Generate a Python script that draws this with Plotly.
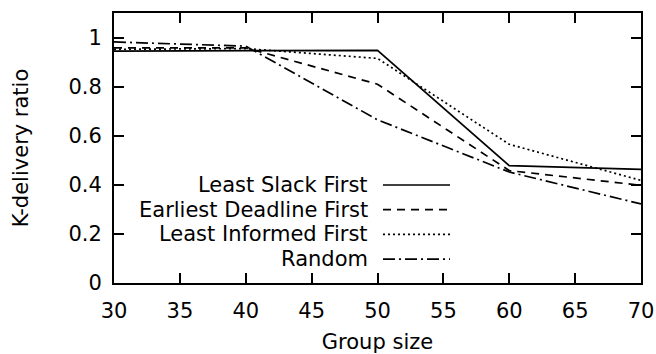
import plotly.graph_objects as go

group_size = [30, 40, 50, 60, 70]
least_slack = [0.945, 0.945, 0.948, 0.478, 0.463]
earliest_deadline = [0.958, 0.958, 0.81, 0.458, 0.398]
least_informed = [0.952, 0.955, 0.915, 0.565, 0.418]
random_sched = [0.982, 0.965, 0.665, 0.452, 0.322]

names = ["Least Slack First", "Earliest Deadline First", "Least Informed First", "Random"]
series = [least_slack, earliest_deadline, least_informed, random_sched]
dashes = ["solid", "8px,6px", "2px,3px", "12px,4px,2px,4px"]

FONT = "DejaVu Sans"
FS = 21
fig = go.Figure()
for name, ys, d in zip(names, series, dashes):
    fig.add_trace(go.Scatter(x=group_size, y=ys, mode="lines", name=name,
                             line=dict(color="black", width=1.7, dash=d),
                             showlegend=False))

# gnuplot-style key: right-aligned text with line sample on its right
key_top = (283 - 185) / 270
row_h = 24.7 / 270
for i, (name, d) in enumerate(zip(names, dashes)):
    yk = key_top - i * row_h
    fig.add_annotation(xref="paper", yref="paper", x=(370 - 114) / 527, y=yk,
                       text=name, showarrow=False, xanchor="right", yanchor="middle",
                       font=dict(family=FONT, size=FS, color="black"))
    fig.add_shape(type="line", xref="paper", yref="paper",
                  x0=(383 - 114) / 527, x1=(450 - 114) / 527, y0=yk, y1=yk,
                  line=dict(color="black", width=1.7, dash=d))

axis_common = dict(showgrid=False, zeroline=False, showline=True, linecolor="black",
                   linewidth=2, mirror="ticks", ticks="inside", ticklen=10,
                   tickwidth=1.5, tickcolor="black", automargin=False,
                   tickfont=dict(family=FONT, size=FS, color="black"))
fig.update_xaxes(range=[30, 70], tickvals=[30, 35, 40, 45, 50, 55, 60, 65, 70],
                 ticklabelstandoff=8,
                 title=dict(text="Group size", font=dict(family=FONT, size=FS, color="black"),
                            standoff=15),
                 **axis_common)
fig.update_yaxes(range=[0, 1.1], tickvals=[0, 0.2, 0.4, 0.6, 0.8, 1],
                 ticktext=["0", "0.2", "0.4", "0.6", "0.8", "1"],
                 ticklabelstandoff=6,
                 title=dict(text="K-delivery ratio", font=dict(family=FONT, size=FS, color="black"),
                            standoff=34),
                 **axis_common)
fig.update_layout(width=656, height=354, margin=dict(l=114, r=15, t=13, b=71),
                  plot_bgcolor="white", paper_bgcolor="white",
                  font=dict(family=FONT, size=FS, color="black"))
fig.write_html("out.html")
